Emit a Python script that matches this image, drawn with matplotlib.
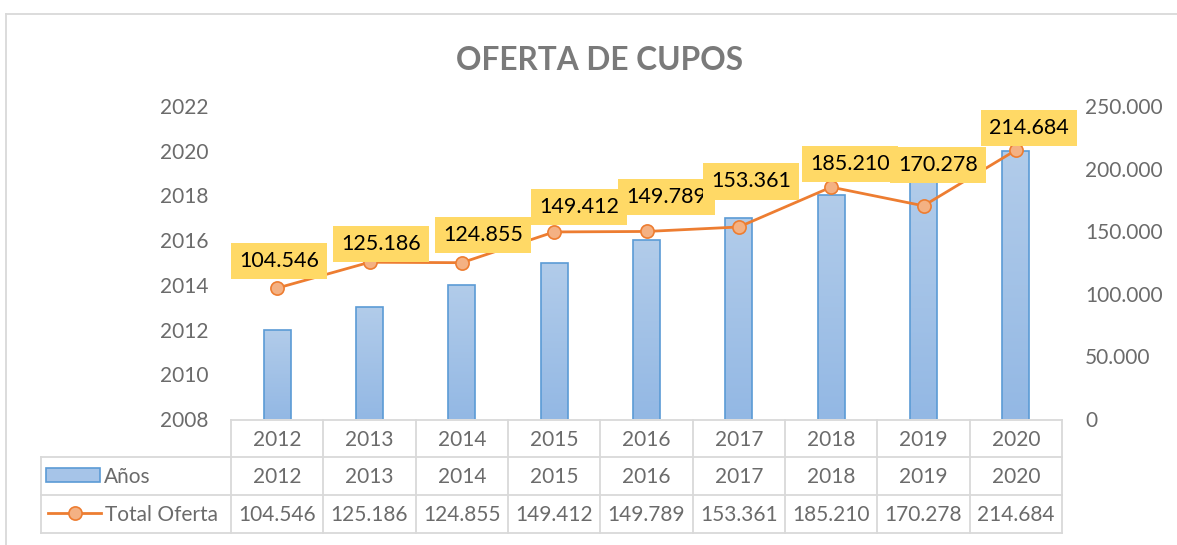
import numpy as np
import matplotlib
matplotlib.use('Agg')
import matplotlib.pyplot as plt
from matplotlib.transforms import blended_transform_factory
from matplotlib.lines import Line2D
from matplotlib.patches import Rectangle
from matplotlib.colors import LinearSegmentedColormap

# ---------------- data ----------------
categories = ['2012', '2013', '2014', '2015', '2016', '2017', '2018', '2019', '2020']
anos = [2012, 2013, 2014, 2015, 2016, 2017, 2018, 2019, 2020]
total_oferta = [104546, 125186, 124855, 149412, 149789, 153361, 185210, 170278, 214684]
left_ticks = [2008, 2010, 2012, 2014, 2016, 2018, 2020, 2022]
right_ticks = [0, 50000, 100000, 150000, 200000, 250000]
title = 'OFERTA DE CUPOS'
series_names = ['Años', 'Total Oferta']

# label placement offsets (pixels, right / up) -- styling only
label_dx = [2, 11.5, 21, 25, 20, 12, 19, 14.5, 13]
label_dy = [27, 18, 28, 25, 34.5, 45.5, 23, 41, 22.5]

# ---------------- style ----------------
W, H, DPI = 1177, 545, 100
FONT = 'Lato'
GRAY = '#6b6b6b'
LINEGRAY = '#d9d9d9'
BAR_EDGE = '#5B9BD5'
ORANGE = '#ED7D31'
MARKER_FC = '#F4B183'
LABEL_BG = '#FFD966'
FS = 15

plt.rcParams['font.family'] = [FONT, 'DejaVu Sans']

fig = plt.figure(figsize=(W / DPI, H / DPI), dpi=DPI)

def fx(px):
    return px / W

def fy(py):
    return 1 - py / H

ax_left, ax_right, ax_top, ax_bot = 231, 1062, 106, 419
ax = fig.add_axes([fx(ax_left), fy(ax_bot), fx(ax_right - ax_left), (ax_bot - ax_top) / H])
ax2 = ax.twinx()

x = np.arange(len(categories))
bw = 0.29

# bars with vertical gradient
ax.set_xlim(-0.5, len(categories) - 0.5)
ax.set_ylim(left_ticks[0], left_ticks[-1])
bars = ax.bar(x, anos, width=bw, facecolor='none', edgecolor=BAR_EDGE, linewidth=1.2, zorder=3)
cmap = LinearSegmentedColormap.from_list('g', ['#93B8E4', '#B2CCEA'])
grad = np.linspace(0, 1, 256).reshape(-1, 1)
for b, v in zip(bars, anos):
    x0 = b.get_x()
    im = ax.imshow(grad, cmap=cmap, origin='lower', aspect='auto',
                   extent=(x0, x0 + b.get_width(), left_ticks[0], v), zorder=2)
    im.set_clip_path(b)
ax.set_xlim(-0.5, len(categories) - 0.5)
ax.set_ylim(left_ticks[0], left_ticks[-1])

ax.set_yticks(left_ticks)
ax.set_yticklabels([str(t) for t in left_ticks])
ax.set_xticks([])
ax.tick_params(axis='y', length=0, pad=16.5, labelsize=FS, labelcolor=GRAY)
for s in ax.spines.values():
    s.set_visible(False)

# line on secondary axis
ax2.set_ylim(right_ticks[0], right_ticks[-1])
ax2.plot(x, total_oferta, color=ORANGE, linewidth=2.0, marker='o', markersize=9.5,
         markerfacecolor=MARKER_FC, markeredgecolor=ORANGE, markeredgewidth=1.2, zorder=4)
ax2.set_yticks(right_ticks)
ax2.set_yticklabels(['0' if t == 0 else f'{t:,.0f}'.replace(',', '.') for t in right_ticks])
ax2.tick_params(axis='y', length=0, pad=16.5, labelsize=FS, labelcolor=GRAY)
for s in ax2.spines.values():
    s.set_visible(False)

for i, v in enumerate(total_oferta):
    ax2.annotate(f'{v:,.0f}'.replace(',', '.'), xy=(x[i], v),
                 xytext=(label_dx[i] * 0.72, label_dy[i] * 0.72), textcoords='offset points',
                 ha='center', va='center', fontsize=FS + 0.5, color='black', zorder=5 + i,
                 bbox=dict(boxstyle='square,pad=0.38', fc=LABEL_BG, ec='none'))

# title
fig.text(fx(600), fy(60), title, ha='center', va='center', fontsize=22.8,
         fontweight='bold', color='#7a7a7a')

# ---------------- data table ----------------
tr = blended_transform_factory(ax.transData, fig.transFigure)
leg_left_px = 41
leg_left = (leg_left_px - ax_left) / ((ax_right - ax_left) / len(categories)) - 0.5
right_edge = len(categories) - 0.5
row_lines = [420, 457, 495, 533]

def hline(x0, x1, ypx):
    fig.add_artist(Line2D([x0, x1], [fy(ypx), fy(ypx)], transform=tr, color=LINEGRAY, lw=1.3))

def vline(xd, y0px, y1px):
    fig.add_artist(Line2D([xd, xd], [fy(y0px), fy(y1px)], transform=tr, color=LINEGRAY, lw=1.3))

hline(-0.5, right_edge, row_lines[0])
for ypx in row_lines[1:]:
    hline(leg_left, right_edge, ypx)
for k in range(len(categories) + 1):
    vline(k - 0.5, row_lines[0], row_lines[-1])
vline(leg_left, row_lines[1], row_lines[-1])

row_centers = [(row_lines[j] + row_lines[j + 1]) / 2 + 1 for j in range(3)]
for i in range(len(categories)):
    fig.text(x[i], fy(row_centers[0]), categories[i], transform=tr, ha='center', va='center',
             fontsize=FS, color=GRAY)
    fig.text(x[i], fy(row_centers[1]), str(anos[i]), transform=tr, ha='center', va='center',
             fontsize=FS, color=GRAY)
    fig.text(x[i], fy(row_centers[2]), f'{total_oferta[i]:,.0f}'.replace(',', '.'), transform=tr,
             ha='center', va='center', fontsize=FS, color=GRAY)

# legend keys inside the table
fig.add_artist(Rectangle((fx(46), fy(482)), fx(100 - 46), (482 - 468) / H, transform=fig.transFigure,
                         facecolor='#A6C4E8', edgecolor=BAR_EDGE, lw=1.2))
fig.text(fx(104), fy(row_centers[1]), series_names[0], ha='left', va='center', fontsize=FS, color=GRAY)
fig.add_artist(Line2D([fx(48), fx(101)], [fy(513), fy(513)], transform=fig.transFigure,
                      color=ORANGE, lw=2.0, zorder=5))
fig.add_artist(Line2D([fx(74.5)], [fy(513)], transform=fig.transFigure, color=ORANGE, lw=0,
                      marker='o', markersize=9.5, markerfacecolor=MARKER_FC,
                      markeredgecolor=ORANGE, markeredgewidth=1.2, zorder=6))
fig.text(fx(105), fy(row_centers[2]), series_names[1], ha='left', va='center', fontsize=FS, color=GRAY)

# chart border (partially visible)
fig.add_artist(Line2D([fx(6), fx(1177)], [fy(14), fy(14)], transform=fig.transFigure, color=LINEGRAY, lw=1.3))
fig.add_artist(Line2D([fx(6), fx(6)], [fy(14), fy(545)], transform=fig.transFigure, color=LINEGRAY, lw=1.3))

fig.savefig('out.png', dpi=DPI)
